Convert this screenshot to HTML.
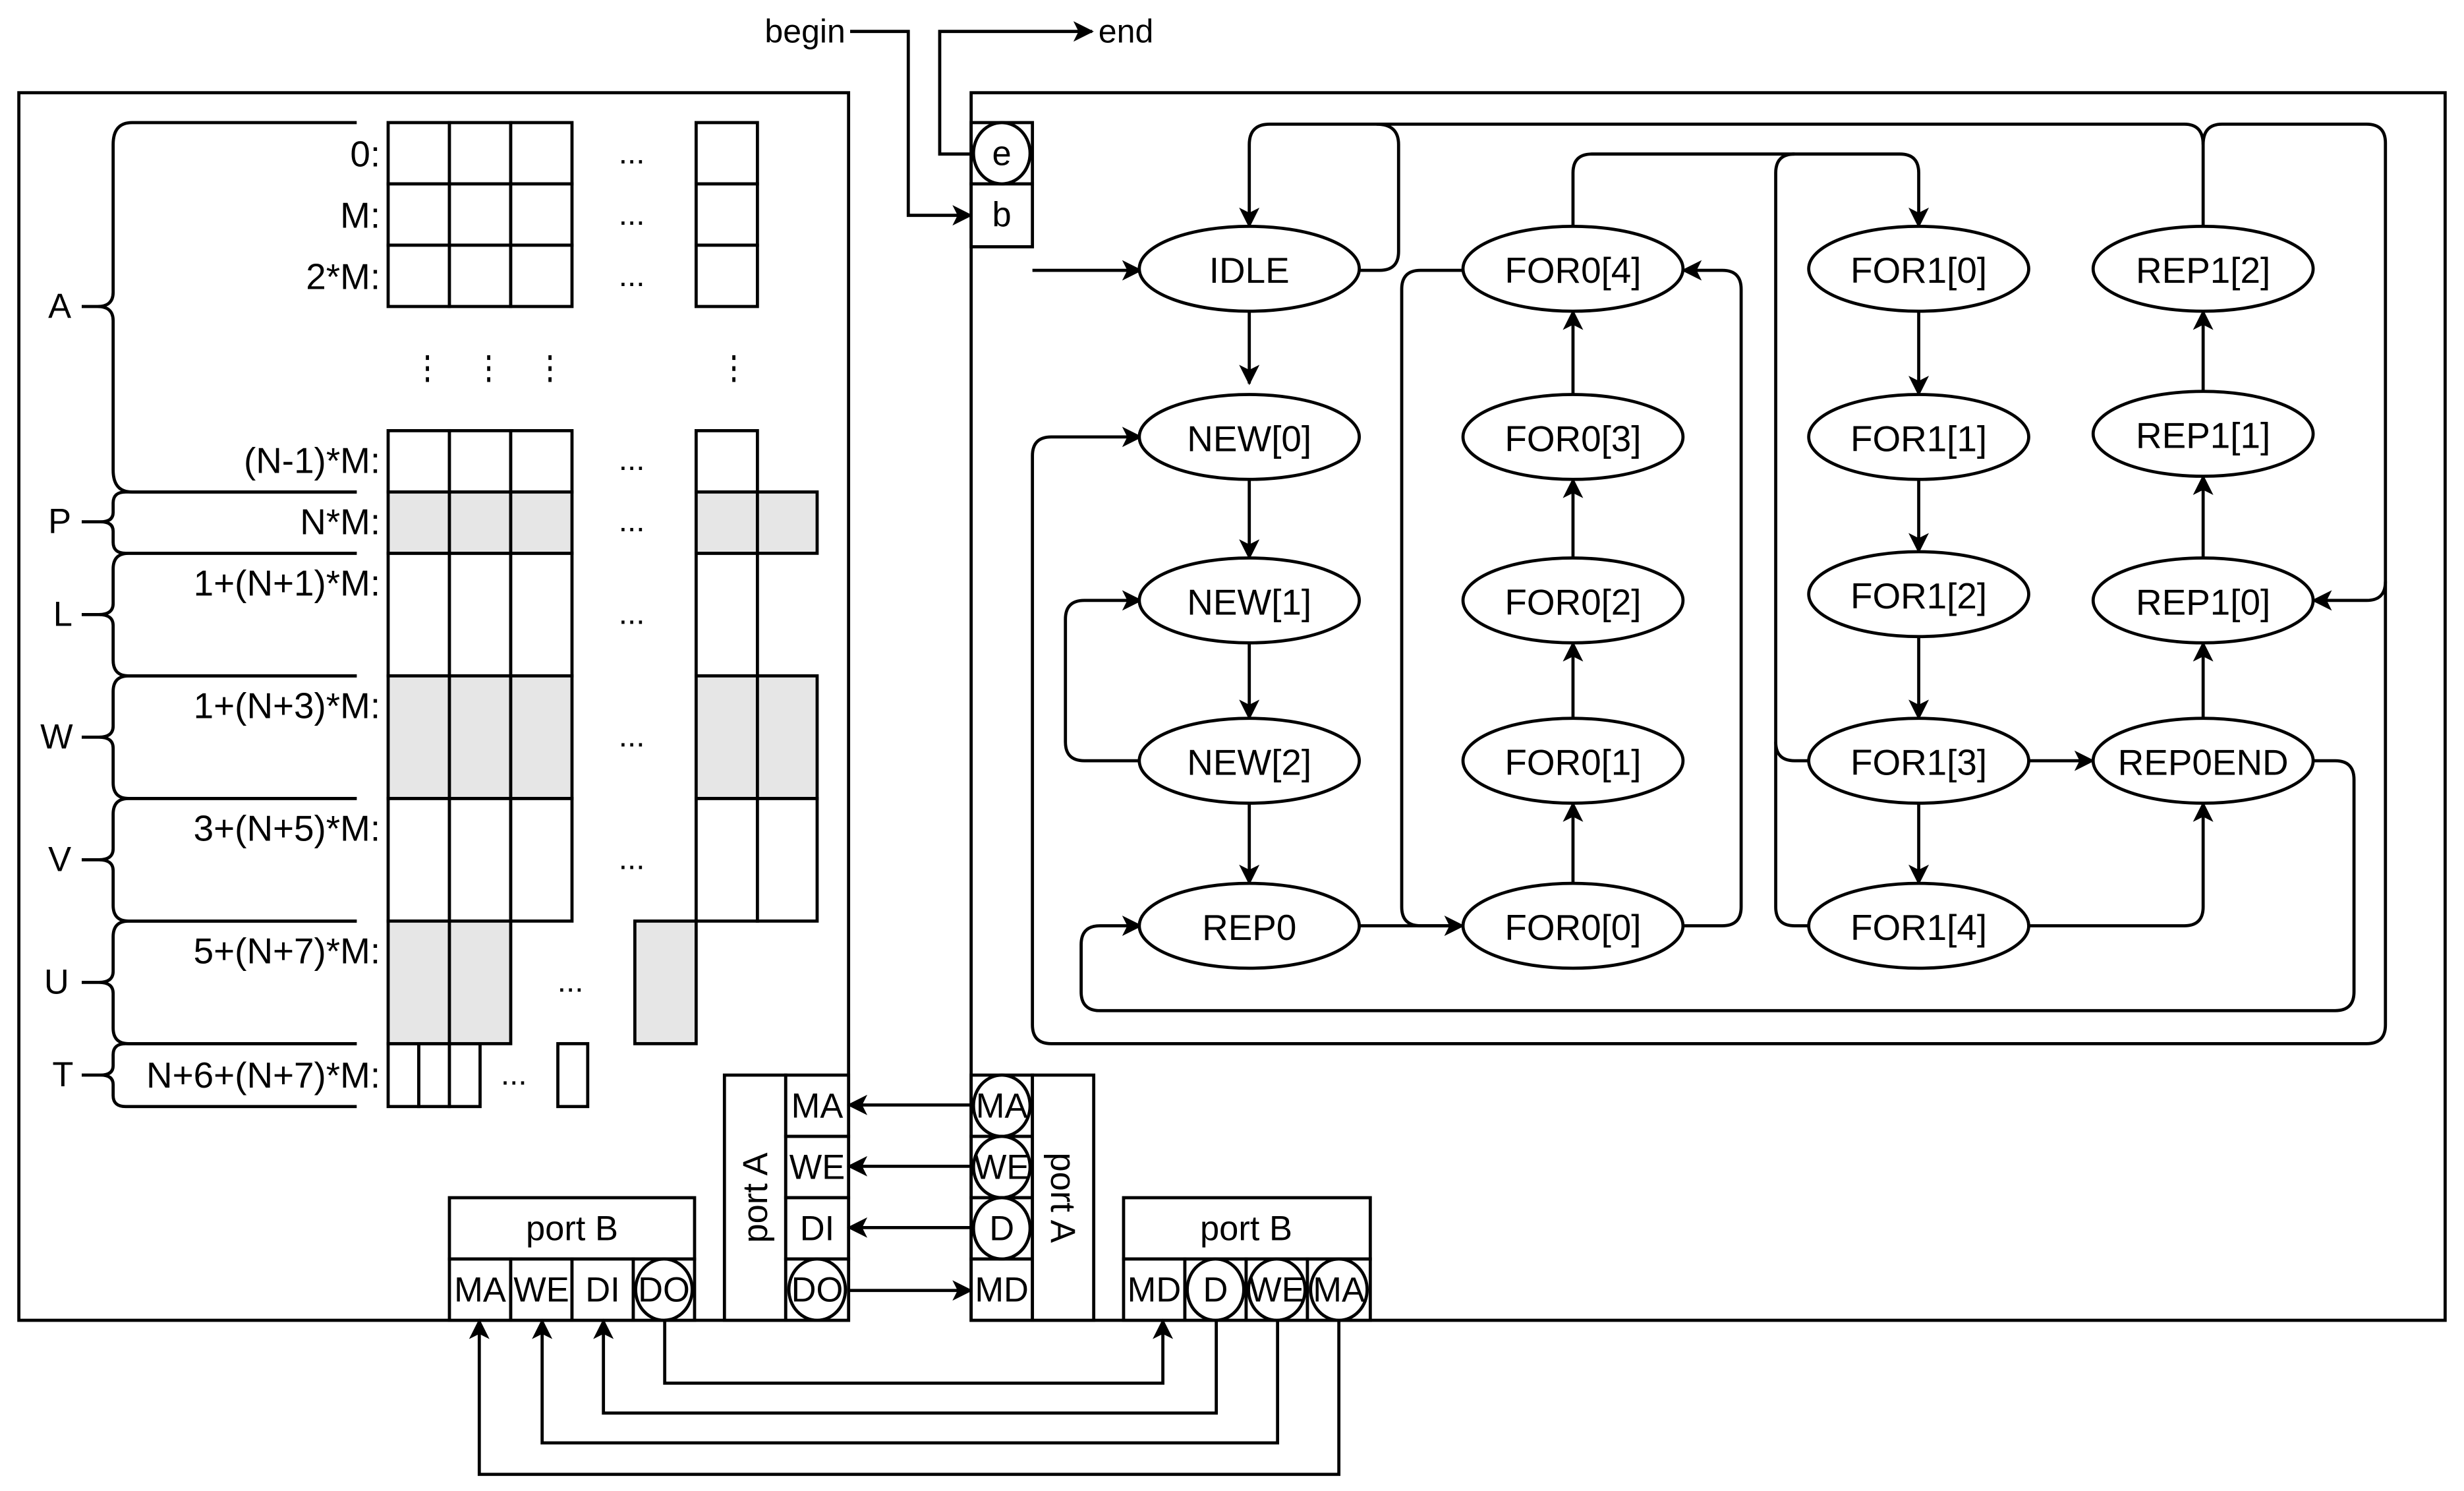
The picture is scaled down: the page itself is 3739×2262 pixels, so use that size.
<!DOCTYPE html>
<html><head><meta charset="utf-8"><style>html,body{margin:0;padding:0;background:#fff}svg{display:block}</style></head>
<body>
<svg width="3739" height="2262" viewBox="0 0 1568 948.6" preserveAspectRatio="none" xmlns="http://www.w3.org/2000/svg" font-family="Liberation Sans, Arial, sans-serif" font-size="22">
<defs>
<marker id="a" viewBox="0 0 12 12" refX="11" refY="6" markerWidth="13" markerHeight="13" markerUnits="userSpaceOnUse" orient="auto">
<path d="M0,0 L12,6 L0,12 L3,6 Z" fill="#000"/></marker>
</defs>
<rect width="1568" height="948.6" fill="#fff"/>
<g fill="none" stroke="#000" stroke-width="2">
<rect x="12" y="59" width="528" height="781"/>
<rect x="618" y="59" width="938" height="781"/>
</g>
<g stroke="#000" stroke-width="2">
<g fill="#fff">
<rect x="247" y="78" width="39" height="39"/><rect x="286" y="78" width="39" height="39"/><rect x="325" y="78" width="39" height="39"/><rect x="443" y="78" width="39" height="39"/>
<rect x="247" y="117" width="39" height="39"/><rect x="286" y="117" width="39" height="39"/><rect x="325" y="117" width="39" height="39"/><rect x="443" y="117" width="39" height="39"/>
<rect x="247" y="156" width="39" height="39"/><rect x="286" y="156" width="39" height="39"/><rect x="325" y="156" width="39" height="39"/><rect x="443" y="156" width="39" height="39"/>
<rect x="247" y="274" width="39" height="39"/><rect x="286" y="274" width="39" height="39"/><rect x="325" y="274" width="39" height="39"/><rect x="443" y="274" width="39" height="39"/>
<rect x="247" y="352" width="39" height="78"/><rect x="286" y="352" width="39" height="78"/><rect x="325" y="352" width="39" height="78"/><rect x="443" y="352" width="39" height="78"/>
<rect x="247" y="508" width="39" height="78"/><rect x="286" y="508" width="39" height="78"/><rect x="325" y="508" width="39" height="78"/><rect x="443" y="508" width="39" height="78"/><rect x="482" y="508" width="38" height="78"/>
<rect x="247" y="664" width="19.5" height="40"/><rect x="266.5" y="664" width="19.5" height="40"/><rect x="286" y="664" width="19.5" height="40"/><rect x="355" y="664" width="19" height="40"/>
</g>
<g fill="#e6e6e6">
<rect x="247" y="313" width="39" height="39"/><rect x="286" y="313" width="39" height="39"/><rect x="325" y="313" width="39" height="39"/><rect x="443" y="313" width="39" height="39"/><rect x="482" y="313" width="38" height="39"/>
<rect x="247" y="430" width="39" height="78"/><rect x="286" y="430" width="39" height="78"/><rect x="325" y="430" width="39" height="78"/><rect x="443" y="430" width="39" height="78"/><rect x="482" y="430" width="38" height="78"/>
<rect x="247" y="586" width="39" height="78"/><rect x="286" y="586" width="39" height="78"/><rect x="404" y="586" width="39" height="78"/>
</g>
</g>
<g fill="none" stroke="#000" stroke-width="2">
<path d="M227,78 H84 Q72,78 72,92 V186 Q72,195 62,195 M62,195 Q72,195 72,204 V299 Q72,313 84,313 H227 M52,195 H62"/>
<path d="M227,313 H80 Q72,313 72,320 V326 Q72,332 64,332 Q72,332 72,338 V345 Q72,352 80,352 H227 M52,332 H64"/>
<path d="M227,352 H82 Q72,352 72,362 V384 Q72,391 63,391 Q72,391 72,398 V420 Q72,430 82,430 H227 M52,391 H63"/>
<path d="M227,430 H82 Q72,430 72,440 V462 Q72,469 63,469 Q72,469 72,476 V498 Q72,508 82,508 H227 M52,469 H63"/>
<path d="M227,508 H82 Q72,508 72,518 V540 Q72,547 63,547 Q72,547 72,554 V576 Q72,586 82,586 H227 M52,547 H63"/>
<path d="M227,586 H82 Q72,586 72,596 V618 Q72,625 63,625 Q72,625 72,632 V654 Q72,664 82,664 H227 M52,625 H63"/>
<path d="M227,664 H80 Q72,664 72,671 V678 Q72,684 64,684 Q72,684 72,690 V697 Q72,704 80,704 H227 M52,684 H64"/>
</g>
<g text-anchor="middle" dominant-baseline="central">
<text x="38" y="195">A</text><text x="38" y="332">P</text><text x="40" y="391">L</text><text x="36" y="469">W</text><text x="38" y="547">V</text><text x="36" y="625">U</text><text x="40" y="684">T</text>
</g>
<g text-anchor="end" dominant-baseline="central" font-size="23">
<text x="242" y="98">0:</text><text x="242" y="137">M:</text><text x="242" y="176">2*M:</text>
<text x="242" y="293">(N-1)*M:</text><text x="242" y="332">N*M:</text><text x="242" y="371">1+(N+1)*M:</text>
<text x="242" y="449">1+(N+3)*M:</text><text x="242" y="527">3+(N+5)*M:</text><text x="242" y="605">5+(N+7)*M:</text>
<text x="242" y="684">N+6+(N+7)*M:</text>
</g>
<g text-anchor="middle" font-size="20">
<text x="402" y="104">...</text><text x="402" y="143">...</text><text x="402" y="182">...</text>
<text x="402" y="299">...</text><text x="402" y="338">...</text><text x="402" y="397">...</text>
<text x="402" y="475">...</text><text x="402" y="553">...</text><text x="363" y="631">...</text><text x="327" y="690">...</text>
</g>
<g fill="#000">
<rect x="271" y="226" width="2" height="3"/><rect x="271" y="233" width="2" height="3"/><rect x="271" y="240" width="2" height="3"/>
<rect x="310" y="226" width="2" height="3"/><rect x="310" y="233" width="2" height="3"/><rect x="310" y="240" width="2" height="3"/>
<rect x="349" y="226" width="2" height="3"/><rect x="349" y="233" width="2" height="3"/><rect x="349" y="240" width="2" height="3"/>
<rect x="466" y="226" width="2" height="3"/><rect x="466" y="233" width="2" height="3"/><rect x="466" y="240" width="2" height="3"/>
</g>
<g fill="#fff" stroke="#000" stroke-width="2">
<rect x="461" y="684" width="39" height="156"/>
<rect x="500" y="684" width="40" height="39"/><rect x="500" y="723" width="40" height="39"/><rect x="500" y="762" width="40" height="39"/><rect x="500" y="801" width="40" height="39"/>
<ellipse cx="520" cy="820.5" rx="18" ry="19.5"/>
<rect x="286" y="762" width="156" height="39"/>
<rect x="286" y="801" width="39" height="39"/><rect x="325" y="801" width="39" height="39"/><rect x="364" y="801" width="39" height="39"/><rect x="403" y="801" width="39" height="39"/>
<ellipse cx="422.5" cy="820.5" rx="18" ry="19.5"/>
<rect x="618" y="684" width="39" height="39"/><rect x="618" y="723" width="39" height="39"/><rect x="618" y="762" width="39" height="39"/><rect x="618" y="801" width="39" height="39"/>
<ellipse cx="637.5" cy="703.5" rx="18" ry="19.5"/><ellipse cx="637.5" cy="742.5" rx="18" ry="19.5"/><ellipse cx="637.5" cy="781.5" rx="18" ry="19.5"/>
<rect x="657" y="684" width="39" height="156"/>
<rect x="715" y="762" width="157" height="39"/>
<rect x="715" y="801" width="39" height="39"/><rect x="754" y="801" width="39" height="39"/><rect x="793" y="801" width="39" height="39"/><rect x="832" y="801" width="40" height="39"/>
<ellipse cx="773.5" cy="820.5" rx="18" ry="19.5"/><ellipse cx="812.5" cy="820.5" rx="18" ry="19.5"/><ellipse cx="852" cy="820.5" rx="18" ry="19.5"/>
<rect x="618" y="78" width="39" height="39"/><rect x="618" y="117" width="39" height="40"/>
<ellipse cx="637.5" cy="97.5" rx="18" ry="19.5"/>
</g>
<g text-anchor="middle" dominant-baseline="central">
<text x="520" y="704">MA</text><text x="520" y="743">WE</text><text x="520" y="782">DI</text><text x="520" y="821">DO</text>
<text x="364" y="782">port B</text>
<text x="305.5" y="821">MA</text><text x="344.5" y="821">WE</text><text x="383.5" y="821">DI</text><text x="422.5" y="821">DO</text>
<text x="637.5" y="704">MA</text><text x="637.5" y="743">WE</text><text x="637.5" y="782">D</text><text x="637.5" y="821">MD</text>
<text x="793" y="782">port B</text>
<text x="734.5" y="821">MD</text><text x="773.5" y="821">D</text><text x="812.5" y="821">WE</text><text x="852" y="821">MA</text>
<text x="637.5" y="98">e</text><text x="637.5" y="137">b</text>
<text transform="translate(481,762) rotate(-90)">port A</text>
<text transform="translate(676,762) rotate(90)">port A</text>
</g>
<text x="538" y="27" text-anchor="end" font-size="21">begin</text>
<text x="699" y="27" font-size="21">end</text>
<g fill="none" stroke="#000" stroke-width="2">
<path d="M618,703 H540" marker-end="url(#a)"/>
<path d="M618,742 H540" marker-end="url(#a)"/>
<path d="M618,781 H540" marker-end="url(#a)"/>
<path d="M540,821 H618" marker-end="url(#a)"/>
<path d="M423,840 V880 H740 V840" marker-end="url(#a)"/>
<path d="M774,840 V899 H384 V840" marker-end="url(#a)"/>
<path d="M813,840 V918 H345 V840" marker-end="url(#a)"/>
<path d="M852,840 V938 H305 V840" marker-end="url(#a)"/>
<path d="M541,20 H578 V137 H618" marker-end="url(#a)"/>
<path d="M618,98 H598 V20 H695" marker-end="url(#a)"/>
<path d="M657,172 H726" marker-end="url(#a)"/>
<path d="M795,198 V244" marker-end="url(#a)"/>
<path d="M795,305 V355" marker-end="url(#a)"/>
<path d="M795,409 V457" marker-end="url(#a)"/>
<path d="M795,511 V562" marker-end="url(#a)"/>
<path d="M726,484 H690 Q678,484 678,472 V394 Q678,382 690,382 H726" marker-end="url(#a)"/>
<path d="M865,172 H878 Q890,172 890,160 V92 Q890,79 876,79 H808 Q795,79 795,92 V144" marker-end="url(#a)"/>
<path d="M1402,144 V92 Q1402,79 1390,79 H876"/>
<path d="M1402,92 Q1402,79 1414,79 H1506 Q1518,79 1518,91 V370 Q1518,382 1506,382 H1472" marker-end="url(#a)"/>
<path d="M1518,370 V652 Q1518,664 1506,664 H669 Q657,664 657,652 V290 Q657,278 669,278 H726" marker-end="url(#a)"/>
<path d="M1472,484 H1486 Q1498,484 1498,496 V631 Q1498,643 1486,643 H700 Q688,643 688,631 V601 Q688,589 700,589 H726" marker-end="url(#a)"/>
<path d="M865,589 H931" marker-end="url(#a)"/>
<path d="M1001,562 V511" marker-end="url(#a)"/>
<path d="M1001,457 V409" marker-end="url(#a)"/>
<path d="M1001,355 V305" marker-end="url(#a)"/>
<path d="M1001,251 V198" marker-end="url(#a)"/>
<path d="M931,172 H904 Q892,172 892,184 V577 Q892,589 904,589 H931"/>
<path d="M1071,589 H1096 Q1108,589 1108,577 V184 Q1108,172 1096,172 H1071" marker-end="url(#a)"/>
<path d="M1001,144 V110 Q1001,98 1013,98 H1209 Q1221,98 1221,110 V144" marker-end="url(#a)"/>
<path d="M1151,484 H1142 Q1130,484 1130,472 V110 Q1130,98 1142,98"/>
<path d="M1151,589 H1142 Q1130,589 1130,577 V472"/>
<path d="M1221,198 V251" marker-end="url(#a)"/>
<path d="M1221,305 V351" marker-end="url(#a)"/>
<path d="M1221,405 V457" marker-end="url(#a)"/>
<path d="M1221,511 V562" marker-end="url(#a)"/>
<path d="M1291,484 H1332" marker-end="url(#a)"/>
<path d="M1291,589 H1390 Q1402,589 1402,577 V511" marker-end="url(#a)"/>
<path d="M1402,457 V409" marker-end="url(#a)"/>
<path d="M1402,355 V303" marker-end="url(#a)"/>
<path d="M1402,249 V198" marker-end="url(#a)"/>
</g>
<g fill="#fff" stroke="#000" stroke-width="2">
<ellipse cx="795" cy="171" rx="70" ry="27"/><ellipse cx="795" cy="278" rx="70" ry="27"/><ellipse cx="795" cy="382" rx="70" ry="27"/><ellipse cx="795" cy="484" rx="70" ry="27"/><ellipse cx="795" cy="589" rx="70" ry="27"/>
<ellipse cx="1001" cy="171" rx="70" ry="27"/><ellipse cx="1001" cy="278" rx="70" ry="27"/><ellipse cx="1001" cy="382" rx="70" ry="27"/><ellipse cx="1001" cy="484" rx="70" ry="27"/><ellipse cx="1001" cy="589" rx="70" ry="27"/>
<ellipse cx="1221" cy="171" rx="70" ry="27"/><ellipse cx="1221" cy="278" rx="70" ry="27"/><ellipse cx="1221" cy="378" rx="70" ry="27"/><ellipse cx="1221" cy="484" rx="70" ry="27"/><ellipse cx="1221" cy="589" rx="70" ry="27"/>
<ellipse cx="1402" cy="171" rx="70" ry="27"/><ellipse cx="1402" cy="276" rx="70" ry="27"/><ellipse cx="1402" cy="382" rx="70" ry="27"/><ellipse cx="1402" cy="484" rx="70" ry="27"/>
</g>
<g text-anchor="middle" dominant-baseline="central" font-size="23">
<text x="795" y="172">IDLE</text><text x="795" y="279">NEW[0]</text><text x="795" y="383">NEW[1]</text><text x="795" y="485">NEW[2]</text><text x="795" y="590">REP0</text>
<text x="1001" y="172">FOR0[4]</text><text x="1001" y="279">FOR0[3]</text><text x="1001" y="383">FOR0[2]</text><text x="1001" y="485">FOR0[1]</text><text x="1001" y="590">FOR0[0]</text>
<text x="1221" y="172">FOR1[0]</text><text x="1221" y="279">FOR1[1]</text><text x="1221" y="379">FOR1[2]</text><text x="1221" y="485">FOR1[3]</text><text x="1221" y="590">FOR1[4]</text>
<text x="1402" y="172">REP1[2]</text><text x="1402" y="277">REP1[1]</text><text x="1402" y="383">REP1[0]</text><text x="1402" y="485">REP0END</text>
</g>
</svg>
</body></html>
